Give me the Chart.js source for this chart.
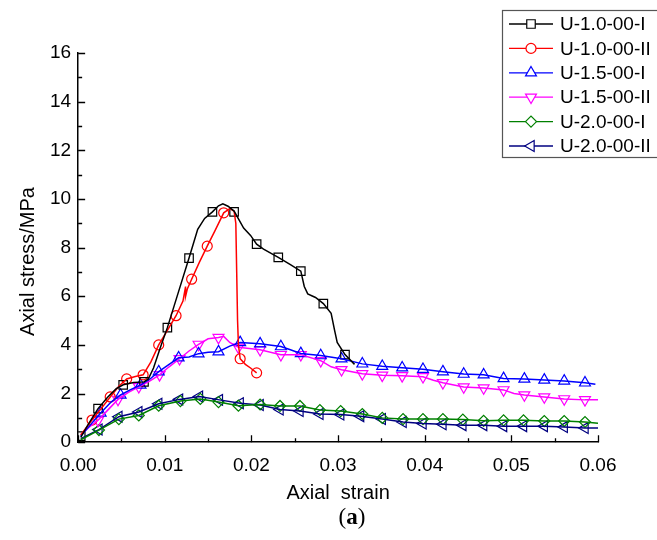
<!DOCTYPE html>
<html>
<head>
<meta charset="utf-8">
<script src="https://cdn.jsdelivr.net/npm/chart.js@4.4.0/dist/chart.umd.min.js"></script>
<style>
html,body{margin:0;padding:0;background:#fff;}
#wrap{position:relative;width:657px;height:540px;overflow:hidden;}
#caption{position:absolute;left:352px;top:504px;transform:translateX(-50%);font-family:"Liberation Serif","DejaVu Serif",serif;font-size:23px;color:#000;white-space:nowrap;}
</style>
</head>
<body>
<div id="wrap">
<canvas id="c" width="657" height="540"></canvas>
<div id="caption">(<b>a</b>)</div>
</div>
<script>
// ---------- data ----------
const seriesNames = ['U-1.0-00-I','U-1.0-00-II','U-1.5-00-I','U-1.5-00-II','U-2.0-00-I','U-2.0-00-II'];
const xTickValues = [0, 0.01, 0.02, 0.03, 0.04, 0.05, 0.06];
const yTickValues = [0, 2, 4, 6, 8, 10, 12, 14, 16];

// U-1.0-00-I  (strain, stress)
const u10I_curve = [[0.0003,0.2],[0.0012,0.75],[0.0023,1.38],[0.0034,1.85],[0.0044,2.2],[0.0052,2.36],[0.0064,2.45],[0.0076,2.48],[0.0081,2.6],[0.0087,3.05],[0.0095,3.9],[0.0103,4.71],[0.0116,6.2],[0.0128,7.57],[0.0138,8.75],[0.0146,9.2],[0.0155,9.47],[0.0162,9.72],[0.0167,9.8],[0.0173,9.7],[0.018,9.5],[0.0191,8.8],[0.0199,8.5],[0.0206,8.14],[0.0214,7.94],[0.0231,7.6],[0.0245,7.3],[0.0257,7.03],[0.0261,6.4],[0.0265,6.1],[0.0274,5.95],[0.0283,5.7],[0.0292,5.3],[0.0296,4.6],[0.0299,4.1],[0.0308,3.6],[0.0319,3.2]];
const u10I_marks = [[0.0003,0.25],[0.0023,1.38],[0.0052,2.36],[0.0076,2.48],[0.0103,4.71],[0.0128,7.57],[0.0155,9.47],[0.018,9.47],[0.0206,8.14],[0.0231,7.6],[0.0257,7.03],[0.0283,5.7],[0.0308,3.6]];

// U-1.0-00-II
const u10II_curve = [[0.0003,0.3],[0.0016,0.91],[0.0027,1.4],[0.0037,1.86],[0.0047,2.3],[0.0056,2.6],[0.0066,2.7],[0.0075,2.77],[0.0084,3.3],[0.0093,4.0],[0.0103,4.6],[0.0113,5.2],[0.0121,5.8],[0.0124,6.4],[0.0124,6.0],[0.0126,6.3],[0.0131,6.7],[0.014,7.4],[0.0149,8.06],[0.0158,8.7],[0.0168,9.43],[0.0175,9.6],[0.018,9.5],[0.0182,9.0],[0.0183,7.0],[0.0184,5.0],[0.0185,4.0],[0.0187,3.43],[0.0193,3.2],[0.0199,3.05],[0.0206,2.85]];
const u10II_marks = [[0.0016,0.91],[0.0037,1.86],[0.0056,2.6],[0.0075,2.77],[0.0093,4.0],[0.0113,5.2],[0.0131,6.7],[0.0149,8.06],[0.0168,9.43],[0.0187,3.43],[0.0206,2.85]];

// U-1.5-00-I
const u15I_curve = [[0.0003,0.25],[0.0015,0.75],[0.0026,1.2],[0.0038,1.65],[0.0049,1.94],[0.006,2.15],[0.0072,2.35],[0.0083,2.6],[0.0093,2.9],[0.0105,3.2],[0.0116,3.47],[0.0128,3.5],[0.0139,3.64],[0.015,3.7],[0.0162,3.72],[0.0175,3.95],[0.0187,4.1],[0.021,4.05],[0.0234,3.93],[0.0245,3.8],[0.0257,3.65],[0.028,3.56],[0.0304,3.43],[0.0328,3.22],[0.0351,3.12],[0.0374,3.06],[0.0398,3.0],[0.0421,2.9],[0.0445,2.8],[0.0468,2.77],[0.0491,2.62],[0.0515,2.6],[0.0538,2.56],[0.0561,2.52],[0.0585,2.44],[0.0597,2.38]];
const u15I_marks = [[0.0026,1.2],[0.0049,1.94],[0.0072,2.35],[0.0093,2.9],[0.0116,3.47],[0.0139,3.64],[0.0162,3.72],[0.0187,4.1],[0.021,4.05],[0.0234,3.93],[0.0257,3.65],[0.028,3.56],[0.0304,3.43],[0.0328,3.22],[0.0351,3.12],[0.0374,3.06],[0.0398,3.0],[0.0421,2.9],[0.0445,2.8],[0.0468,2.77],[0.0491,2.62],[0.0515,2.6],[0.0538,2.56],[0.0561,2.52],[0.0585,2.44]];

// U-1.5-00-II
const u15II_curve = [[0.0003,0.3],[0.0012,0.6],[0.0023,0.9],[0.0035,1.35],[0.0046,1.76],[0.0058,2.05],[0.007,2.28],[0.0082,2.5],[0.0094,2.77],[0.0105,3.1],[0.0117,3.43],[0.0128,3.75],[0.0139,4.02],[0.015,4.25],[0.0162,4.3],[0.0168,4.35],[0.0175,4.1],[0.0185,3.9],[0.021,3.8],[0.0234,3.6],[0.0257,3.6],[0.028,3.35],[0.0292,3.1],[0.0304,2.98],[0.0328,2.81],[0.0351,2.75],[0.0374,2.73],[0.0398,2.69],[0.041,2.55],[0.0421,2.44],[0.0445,2.27],[0.0468,2.23],[0.0491,2.15],[0.0503,2.0],[0.0515,1.94],[0.0538,1.86],[0.0561,1.78],[0.0585,1.74],[0.06,1.74]];
const u15II_marks = [[0.0023,0.9],[0.0046,1.76],[0.007,2.28],[0.0094,2.77],[0.0117,3.43],[0.0139,4.02],[0.0162,4.3],[0.0185,3.9],[0.021,3.8],[0.0234,3.6],[0.0257,3.6],[0.028,3.35],[0.0304,2.98],[0.0328,2.81],[0.0351,2.75],[0.0374,2.73],[0.0398,2.69],[0.0421,2.44],[0.0445,2.27],[0.0468,2.23],[0.0491,2.15],[0.0515,1.94],[0.0538,1.86],[0.0561,1.78],[0.0585,1.74]];

// U-2.0-00-I
const u20I_curve = [[0.0003,0.1],[0.0024,0.5],[0.0047,0.95],[0.007,1.1],[0.0093,1.5],[0.0118,1.69],[0.0141,1.78],[0.0162,1.65],[0.0185,1.5],[0.021,1.55],[0.0233,1.49],[0.0256,1.49],[0.0279,1.32],[0.0303,1.28],[0.0328,1.16],[0.0351,1.0],[0.0375,0.95],[0.0398,0.95],[0.0421,0.95],[0.0444,0.93],[0.0468,0.88],[0.0491,0.9],[0.0514,0.9],[0.0538,0.87],[0.0561,0.87],[0.0585,0.83],[0.06,0.78]];
const u20I_marks = [[0.0024,0.5],[0.0047,0.95],[0.007,1.1],[0.0093,1.5],[0.0118,1.69],[0.0141,1.78],[0.0162,1.65],[0.0185,1.5],[0.021,1.55],[0.0233,1.49],[0.0256,1.49],[0.0279,1.32],[0.0303,1.28],[0.0328,1.16],[0.0351,1.0],[0.0375,0.95],[0.0398,0.95],[0.0421,0.95],[0.0444,0.93],[0.0468,0.88],[0.0491,0.9],[0.0514,0.9],[0.0538,0.87],[0.0561,0.87],[0.0585,0.83]];

// U-2.0-00-II
const u20II_curve = [[0.0003,0.15],[0.0024,0.52],[0.0047,1.05],[0.007,1.24],[0.0093,1.58],[0.0117,1.76],[0.014,1.88],[0.0163,1.74],[0.0187,1.6],[0.021,1.53],[0.0233,1.34],[0.0256,1.28],[0.0279,1.16],[0.0303,1.14],[0.0326,1.07],[0.0351,0.95],[0.0375,0.83],[0.0398,0.77],[0.0421,0.74],[0.0444,0.7],[0.0468,0.7],[0.0491,0.66],[0.0514,0.66],[0.0538,0.66],[0.0561,0.62],[0.0585,0.58],[0.06,0.58]];
const u20II_marks = [[0.0024,0.52],[0.0047,1.05],[0.007,1.24],[0.0093,1.58],[0.0117,1.76],[0.014,1.88],[0.0163,1.74],[0.0187,1.6],[0.021,1.53],[0.0233,1.34],[0.0256,1.28],[0.0279,1.16],[0.0303,1.14],[0.0326,1.07],[0.0351,0.95],[0.0375,0.83],[0.0398,0.77],[0.0421,0.74],[0.0444,0.7],[0.0468,0.7],[0.0491,0.66],[0.0514,0.66],[0.0538,0.66],[0.0561,0.62],[0.0585,0.58]];

// ---------- styles ----------
const curves = [u10I_curve, u10II_curve, u15I_curve, u15II_curve, u20I_curve, u20II_curve];
const marks  = [u10I_marks, u10II_marks, u15I_marks, u15II_marks, u20I_marks, u20II_marks];
const colors = ['#000000','#ff0000','#0000ff','#ff00ff','#008000','#000080'];
const pStyles = ['rect','circle','triangle','triangle','rectRot','triangle'];
const pRot = [0,0,0,180,0,-90];
const pRad = [6,5,6.3,6.3,5.5,6.3];
const FONT = '"Liberation Sans", Arial, sans-serif';

const toXY = arr => arr.map(p => ({x: p[0], y: p[1]}));

const datasets = [];
curves.forEach((c, i) => {
  datasets.push({
    label: seriesNames[i], data: toXY(c), showLine: true,
    borderColor: colors[i], borderWidth: 1.5, pointRadius: 0, pointHoverRadius: 0,
    tension: 0, fill: false
  });
});
marks.forEach((m, i) => {
  datasets.push({
    label: seriesNames[i] + ' markers', data: toXY(m), showLine: false,
    pointStyle: pStyles[i], rotation: pRot[i], pointRotation: pRot[i], pointRadius: pRad[i],
    pointBorderColor: colors[i], pointBackgroundColor: 'rgba(255,255,255,0)',
    pointBorderWidth: 1.2, borderColor: colors[i]
  });
});

// inward tick marks drawn through the chart's scales
const inwardTicks = {
  id: 'inwardTicks',
  afterDraw(chart) {
    const {ctx, chartArea: a, scales: {x, y}} = chart;
    ctx.save();
    ctx.strokeStyle = '#000';
    ctx.lineWidth = 1.3;
    ctx.beginPath();
    for (let i = 0; i < xTickValues.length; i++) {
      const px = Math.round(x.getPixelForValue(xTickValues[i])) + 0.5;
      ctx.moveTo(px, a.bottom); ctx.lineTo(px, a.bottom - 7);
      if (i < xTickValues.length - 1) {
        const pm = Math.round(x.getPixelForValue((xTickValues[i] + xTickValues[i + 1]) / 2)) + 0.5;
        ctx.moveTo(pm, a.bottom); ctx.lineTo(pm, a.bottom - 4);
      }
    }
    for (let i = 0; i < yTickValues.length; i++) {
      const py = Math.round(y.getPixelForValue(yTickValues[i])) + 0.5;
      ctx.moveTo(a.left, py); ctx.lineTo(a.left + 7, py);
      if (i < yTickValues.length - 1) {
        const pm = Math.round(y.getPixelForValue((yTickValues[i] + yTickValues[i + 1]) / 2)) + 0.5;
        ctx.moveTo(a.left, pm); ctx.lineTo(a.left + 4, pm);
      }
    }
    ctx.stroke();
    ctx.restore();
  }
};

// boxed legend with line + marker samples
const boxLegend = {
  id: 'boxLegend',
  afterDraw(chart) {
    const ctx = chart.ctx;
    const bx = 502, by = 10, bw = 160, bh = 147, rowH = 24.4, y0 = 24;
    ctx.save();
    ctx.fillStyle = '#fff';
    ctx.fillRect(bx, by, bw, bh);
    ctx.strokeStyle = '#555';
    ctx.lineWidth = 1.2;
    ctx.strokeRect(bx + 0.5, by + 0.5, bw, bh);
    seriesNames.forEach((name, i) => {
      const yy = y0 + i * rowH;
      ctx.strokeStyle = colors[i];
      ctx.lineWidth = 1.3;
      ctx.beginPath(); ctx.moveTo(509, yy); ctx.lineTo(553, yy); ctx.stroke();
      ctx.fillStyle = '#fff';
      ctx.lineWidth = 1.2;
      Chart.helpers.drawPoint(ctx, {pointStyle: pStyles[i], rotation: pRot[i], radius: pRad[i], borderWidth: 1.2}, 531, yy);
      ctx.fillStyle = '#000';
      ctx.font = '19px ' + FONT;
      ctx.textBaseline = 'middle';
      ctx.textAlign = 'left';
      ctx.fillText(name, 560, yy + 1);
    });
    ctx.restore();
  }
};

new Chart(document.getElementById('c'), {
  type: 'scatter',
  data: {datasets},
  options: {
    responsive: false,
    animation: false,
    events: [],
    layout: {padding: {left: 12, right: 59, top: 53, bottom: 34.5}},
    plugins: {legend: {display: false}, tooltip: {enabled: false}, title: {display: false}},
    scales: {
      x: {
        type: 'linear', min: 0, max: 0.06,
        grid: {display: false, drawTicks: false},
        border: {display: true, color: '#000', width: 1.5},
        ticks: {stepSize: 0.01, autoSkip: false, maxRotation: 0, padding: 12, color: '#000',
                font: {family: FONT, size: 19},
                callback: v => Number(v).toFixed(2)},
        afterBuildTicks: s => { s.ticks = xTickValues.map(v => ({value: v})); },
        title: {display: true, text: 'Axial  strain', color: '#000', font: {family: FONT, size: 20},
                padding: {top: -7.5, bottom: 0}}
      },
      y: {
        type: 'linear', min: 0, max: 16,
        grid: {display: false, drawTicks: false},
        border: {display: true, color: '#000', width: 1.5},
        ticks: {stepSize: 2, padding: 7, color: '#000', font: {family: FONT, size: 19}},
        afterBuildTicks: s => { s.ticks = yTickValues.map(v => ({value: v})); },
        title: {display: true, text: 'Axial stress/MPa     ', color: '#000', font: {family: FONT, size: 20},
                padding: {top: 4, bottom: 3}}
      }
    }
  },
  plugins: [inwardTicks, boxLegend]
});
</script>
</body>
</html>
